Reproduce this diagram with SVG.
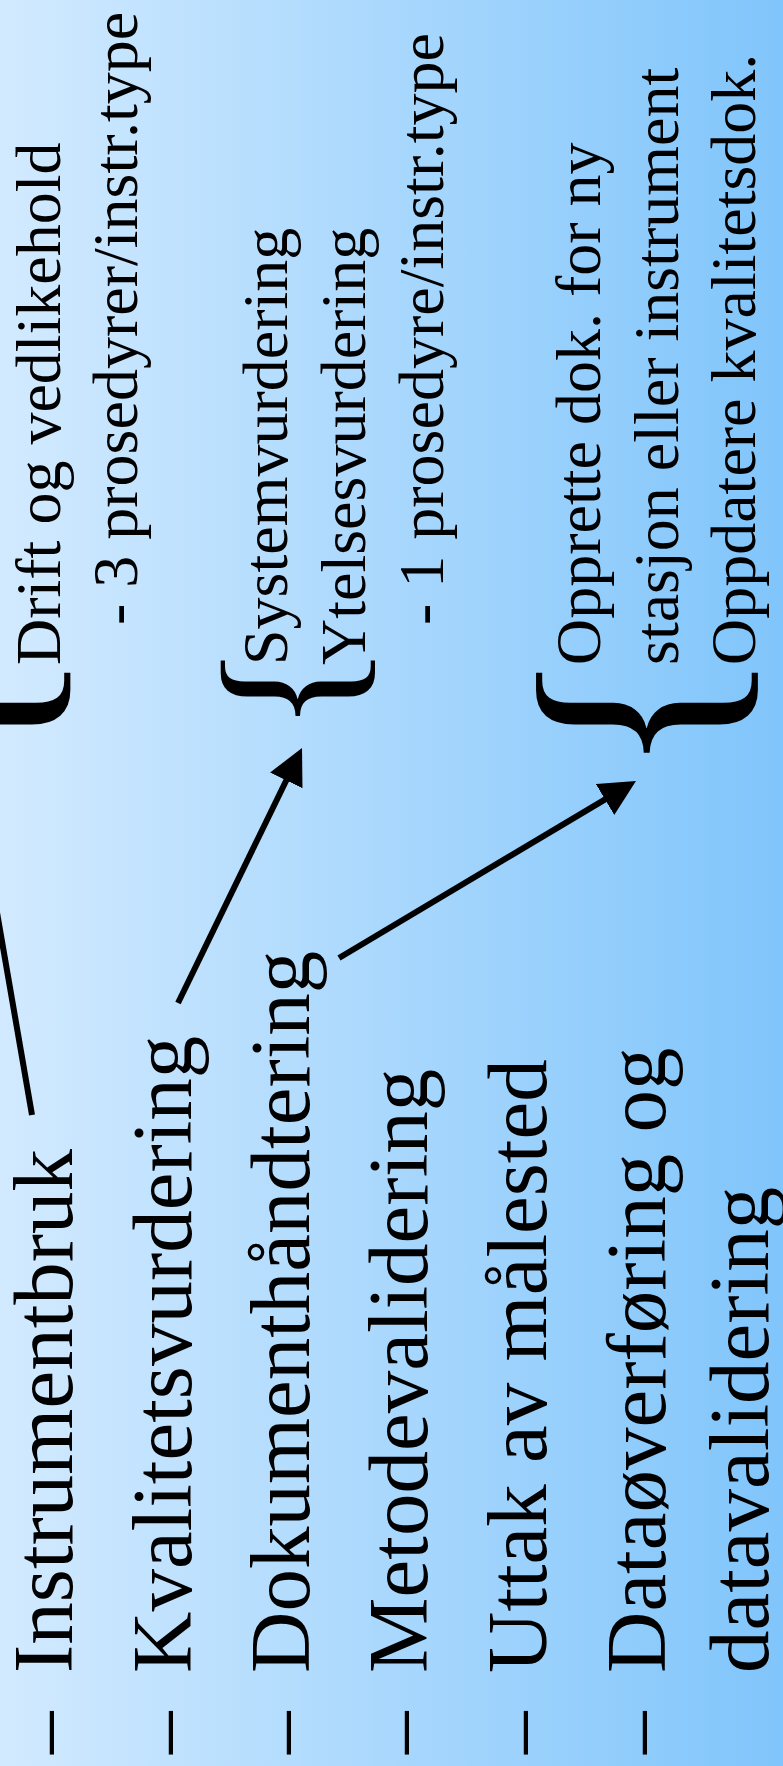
<svg xmlns="http://www.w3.org/2000/svg" width="783" height="1766" viewBox="0 0 783 1766">
  <defs>
    <linearGradient id="bg" x1="0" y1="0" x2="1" y2="0">
      <stop offset="0" stop-color="#d2eaff"/>
      <stop offset="1" stop-color="#80c5fb"/>
    </linearGradient>
    <marker id="head" markerUnits="userSpaceOnUse" markerWidth="36" markerHeight="36" refX="6" refY="18" orient="auto">
      <path d="M0,0 L36,18 L0,36 Z" fill="#000"/>
    </marker>
    <style>
      text { font-family: "Liberation Serif", "Times New Roman", serif; fill: #000; }
      .main { font-size: 85px; }
      .sub { font-size: 64px; }
      .brace-s { font-size: 186px; }
      .brace-l { font-size: 268px; }
      .link { stroke: #000; stroke-width: 6; fill: none; marker-end: url(#head); }
    </style>
  </defs>

  <rect x="0" y="0" width="783" height="1766" fill="url(#bg)"/>

  <!-- bullet list, read bottom to top -->
  <g id="item-instrumentbruk">
    <text class="main" transform="translate(72,1754) rotate(-90)">–</text>
    <text class="main" transform="translate(72,1673) rotate(-90)">Instrumentbruk</text>
  </g>
  <g id="item-kvalitetsvurdering">
    <text class="main" transform="translate(191,1754) rotate(-90)">–</text>
    <text class="main" transform="translate(191,1673) rotate(-90)">Kvalitetsvurdering</text>
  </g>
  <g id="item-dokumenthandtering">
    <text class="main" transform="translate(309,1754) rotate(-90)">–</text>
    <text class="main" transform="translate(309,1673) rotate(-90)">Dokumenthåndtering</text>
  </g>
  <g id="item-metodevalidering">
    <text class="main" transform="translate(427,1754) rotate(-90)">–</text>
    <text class="main" transform="translate(427,1673) rotate(-90)">Metodevalidering</text>
  </g>
  <g id="item-uttak">
    <text class="main" transform="translate(546,1754) rotate(-90)">–</text>
    <text class="main" transform="translate(546,1673) rotate(-90)">Uttak av målested</text>
  </g>
  <g id="item-dataoverforing">
    <text class="main" transform="translate(665,1754) rotate(-90)">–</text>
    <text class="main" transform="translate(665,1673) rotate(-90)">Dataøverføring og</text>
    <text class="main" transform="translate(768,1673) rotate(-90)">datavalidering</text>
  </g>

  <!-- detail blocks with braces -->
  <g id="detail-drift">
    <text class="brace-l" transform="translate(34.5,777) rotate(-90)">{</text>
    <text class="sub" transform="translate(60,665) rotate(-90)">Drift og vedlikehold</text>
    <text class="sub" transform="translate(137,625) rotate(-90)">- 3 prosedyrer/instr.type</text>
  </g>
  <g id="detail-vurdering">
    <text class="brace-s" transform="translate(349.5,733) rotate(-90)">{</text>
    <text class="sub" transform="translate(287,665) rotate(-90)">Systemvurdering</text>
    <text class="sub" transform="translate(365,665) rotate(-90)">Ytelsesvurdering</text>
    <text class="sub" transform="translate(443,625) rotate(-90)">- 1 prosedyre/instr.type</text>
  </g>
  <g id="detail-dokument">
    <text class="brace-l" transform="translate(722,777) rotate(-90)">{</text>
    <text class="sub" transform="translate(600,665) rotate(-90)">Opprette dok. for ny</text>
    <text class="sub" transform="translate(678,665) rotate(-90)">stasjon eller instrument</text>
    <text class="sub" transform="translate(755,665) rotate(-90)">Oppdatere kvalitetsdok.</text>
  </g>

  <g id="connectors">
    <line class="link" x1="32" y1="1115" x2="-19.9" y2="814.6"/>
    <line class="link" x1="178" y1="1003" x2="288.9" y2="775"/>
    <line class="link" x1="339" y1="958" x2="610.2" y2="796.4"/>
  </g>
</svg>
